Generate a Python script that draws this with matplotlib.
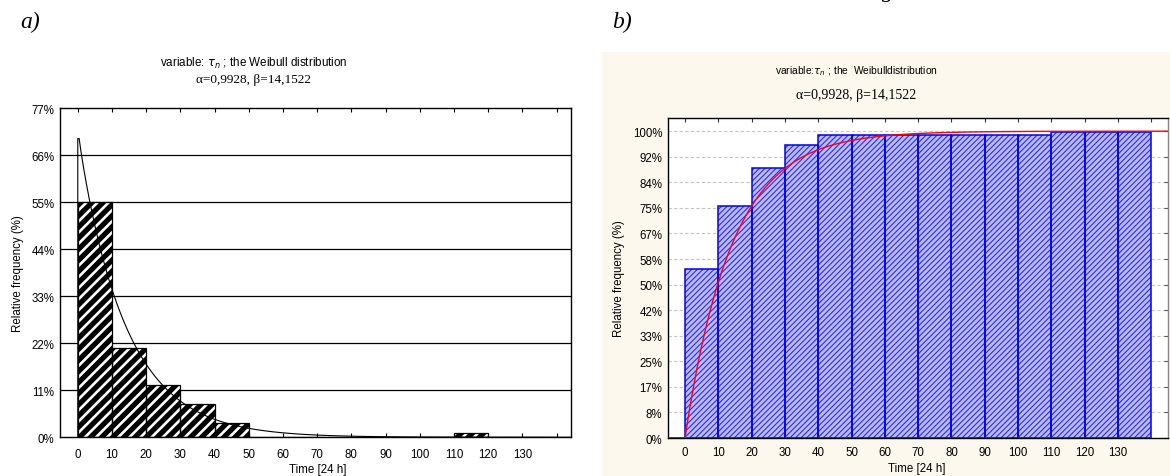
import numpy as np
import matplotlib
matplotlib.use("Agg")
import matplotlib.pyplot as plt
from matplotlib.patches import Rectangle

plt.rcParams['font.family'] = ['Liberation Sans', 'DejaVu Sans']

# ---------------- data ----------------
alpha = 0.9928
beta = 14.1522
bin_left = [0, 10, 20, 30, 40, 50, 60, 70, 80, 90, 100, 110, 120, 130]
bin_width = 10
freq_a = [55.0, 20.9, 12.2, 7.7, 3.3, 0, 0, 0, 0, 0, 0, 1.0, 0, 0]
cum_b = [55.0, 75.7, 87.9, 95.4, 98.8, 98.8, 98.8, 98.8, 98.8, 98.8, 98.8, 99.8, 99.8, 99.8]
xticks = [0, 10, 20, 30, 40, 50, 60, 70, 80, 90, 100, 110, 120, 130, 140]
xtick_labels = ['0', '10', '20', '30', '40', '50', '60', '70', '80', '90', '100', '110', '120', '130', '']
yticks_a = [0, 11, 22, 33, 44, 55, 66, 77]
yticks_b_labels = ['0%', '8%', '17%', '25%', '33%', '42%', '50%', '58%', '67%', '75%', '84%', '92%', '100%']

W, H = 1170, 477
fig = plt.figure(figsize=(W / 100, H / 100), dpi=100)
fig.patch.set_facecolor('white')

def fx(px):
    return px / W

def fy(py):
    return 1 - py / H

# beige background of panel b
fig.patches.append(Rectangle((fx(602), 0), 1 - fx(602), fy(53), transform=fig.transFigure,
                             facecolor='#fdf8ee', edgecolor='none', zorder=-10))

TS = 8.3

# ---------------- panel a ----------------
axa = fig.add_axes([fx(60), fy(438.3), fx(571) - fx(60), fy(109.3) - fy(438.3)])
axa.set_xlim(-5.2, 144.2)
axa.set_ylim(0, 77)
axa.set_yticks(yticks_a)
axa.set_yticklabels(['%d%%' % v for v in yticks_a])
axa.set_xticks(xticks)
axa.set_xticklabels(xtick_labels)
axa.tick_params(axis='x', direction='in', top=True, bottom=True, length=3, labelsize=TS, pad=8,
                color='black')
axa.tick_params(axis='y', length=0, labelsize=TS, pad=4)
for v in yticks_a[1:-1]:
    axa.axhline(v, color='black', lw=0.9, zorder=1)
for s in axa.spines.values():
    s.set_linewidth(1.0)
    s.set_color('black')

plt.rcParams['hatch.linewidth'] = 1.9
axa.bar(bin_left, freq_a, width=bin_width, align='edge', facecolor='black',
        edgecolor='white', hatch='///', linewidth=0, zorder=2)
axa.bar(bin_left, freq_a, width=bin_width, align='edge', fill=False,
        edgecolor='black', linewidth=0.9, zorder=3)

xc = np.linspace(0.4, 144, 600)
pdf = bin_width * 100 * (alpha / beta) * (xc / beta) ** (alpha - 1) * np.exp(-(xc / beta) ** alpha)
axa.plot(np.r_[0, 0, xc], np.r_[0, pdf[0], pdf], color='black', lw=0.8, zorder=4)

axa.set_ylabel('Relative frequency (%)', fontsize=TS, labelpad=5)
fig.text(fx(318), fy(470), 'Time [24 h]', ha='center', va='center', fontsize=TS)

fig.text(fx(254), fy(63), r'variable: $\tau_n$ ; the Weibull distribution', ha='center', va='center',
         fontsize=8.4)
fig.text(fx(254), fy(80), 'α=0,9928, β=14,1522', ha='center', va='center', fontsize=9.5,
         family='Liberation Serif')
fig.text(fx(20), fy(22), 'a)', ha='left', va='center', fontsize=17, style='italic',
         family='Liberation Serif')

# ---------------- panel b ----------------
axb = fig.add_axes([fx(668), fy(439), fx(1168) - fx(668), fy(119) - fy(439)])
axb.set_facecolor('white')
axb.set_xlim(-5.1, 145)
axb.set_ylim(0, 104.3)
yt_b = [i * 100 / 12 for i in range(13)]
axb.set_yticks(yt_b)
axb.set_yticklabels(yticks_b_labels)
axb.set_xticks(xticks)
axb.set_xticklabels(xtick_labels)
axb.tick_params(axis='x', direction='in', top=True, bottom=False, length=3, labelsize=TS, pad=6,
                color='#333333')
axb.tick_params(axis='y', direction='in', left=False, right=True, length=3, labelsize=TS, pad=4,
                color='#555555')
for v in yt_b[1:]:
    axb.axhline(v, color='#c4c4c4', lw=0.8, ls=(0, (3, 2)), zorder=1)
for k, s in axb.spines.items():
    s.set_linewidth(1.0)
    s.set_color('black' if k != 'right' else '#888888')

plt.rcParams['hatch.linewidth'] = 0.8
axb.bar(bin_left, cum_b, width=bin_width, align='edge', facecolor='#bcbcff',
        edgecolor='#2a2aff', hatch='//////', linewidth=0, zorder=2)
axb.bar(bin_left, cum_b, width=bin_width, align='edge', fill=False,
        edgecolor='#0000ee', linewidth=1.1, zorder=3)

xc2 = np.linspace(0, 145, 600)
cdf = 100 * (1 - np.exp(-(xc2 / beta) ** alpha))
axb.plot([-5.1, 0], [0, 0], color='#8b0000', lw=1.2, zorder=4)
axb.plot(xc2, cdf, color='#ff0000', lw=1.0, zorder=4)

axb.set_ylabel('Relative frequency (%)', fontsize=TS, labelpad=6)
fig.text(fx(917), fy(469), 'Time [24 h]', ha='center', va='center', fontsize=TS)

fig.text(fx(856), fy(71), r'variable:$\tau_n$ ; the  Weibulldistribution', ha='center', va='center',
         fontsize=7.4)
fig.text(fx(856), fy(96), 'α=0,9928, β=14,1522', ha='center', va='center', fontsize=10,
         family='Liberation Serif')
fig.text(fx(612), fy(22), 'b)', ha='left', va='center', fontsize=17, style='italic',
         family='Liberation Serif')
fig.text(fx(888), fy(-9), 'g', ha='center', va='center', fontsize=17, style='italic',
         family='Liberation Serif')

fig.savefig('out.png', dpi=100)
